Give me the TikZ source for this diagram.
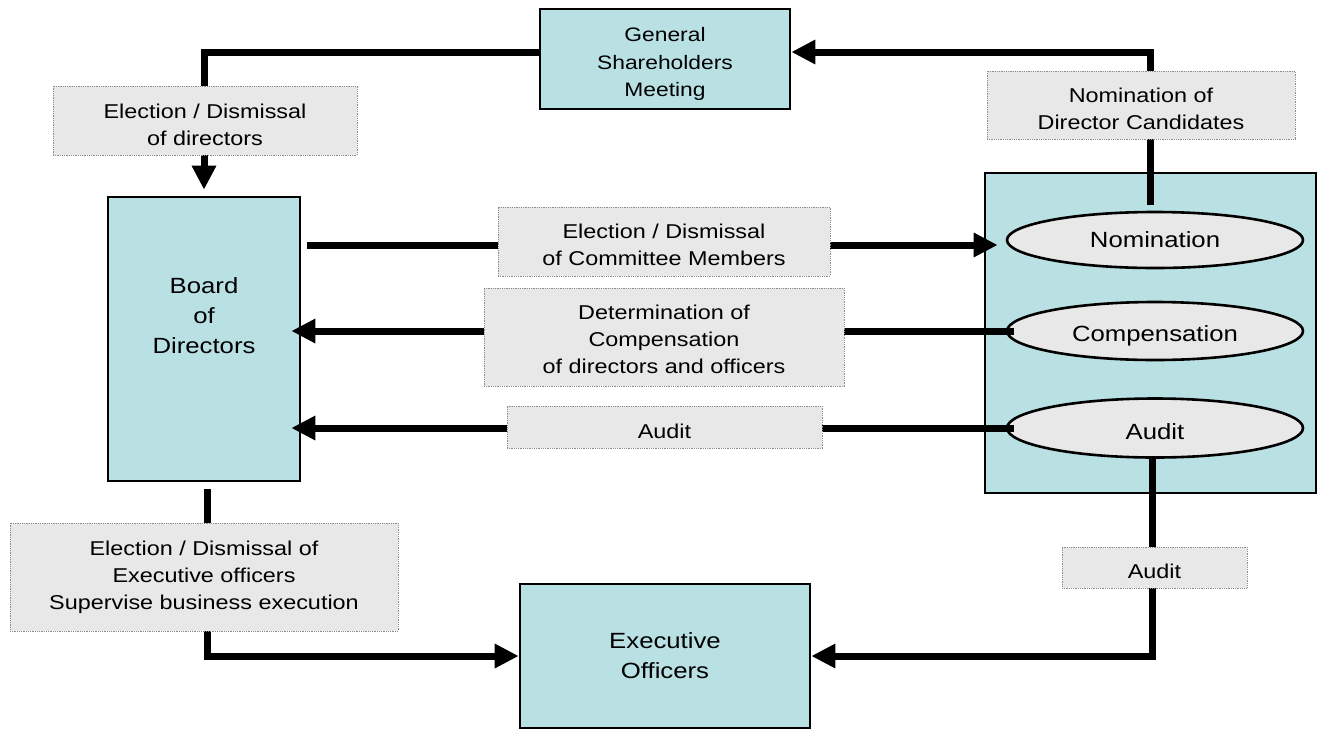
\documentclass[tikz,border=0pt]{standalone}
\usepackage{fontspec}
\setmainfont{Liberation Sans}[FakeStretch=1.17]
\usetikzlibrary{arrows.meta,calc,shapes.geometric}
\definecolor{boxblue}{HTML}{B9E0E3}
\definecolor{lblgray}{HTML}{E8E8E8}
\definecolor{lblborder}{HTML}{8C8C8C}
\tikzset{
  mainbox/.style={draw=black, line width=2.6pt, fill=boxblue, inner sep=0pt, align=center},
  oval/.style={ellipse, draw=black, line width=2.6pt, fill=lblgray, inner sep=0pt, align=center},
  lblbox/.style={draw=lblborder, densely dotted, line width=0.8pt, fill=lblgray, inner sep=0pt},
  small/.style={font=\fontsize{20}{27}\selectfont},
  big/.style={font=\fontsize{22}{30}\selectfont},
  gsmfont/.style={font=\fontsize{19.5}{27.5}\selectfont},
  conn/.style={line width=7pt, draw=black, line join=miter},
  arr/.style={-{Triangle[length=24pt,width=23pt]}},
}
\begin{document}
\begin{tikzpicture}[x=1pt,y=-1pt]
\useasboundingbox (0,0) rectangle (1329,729);
% main boxes
\node[mainbox, minimum width=250pt, minimum height=100pt,
  label={[gsmfont, align=center, yshift=-5pt]center:General\\Shareholders\\Meeting}] (gsm) at (665,59) {};
\node[mainbox, minimum width=192pt, minimum height=284pt,
  label={[big, align=center, yshift=23pt]center:Board\\of\\Directors}] (board) at (204,339) {};
\node[mainbox, minimum width=331pt, minimum height=320pt] (comm) at (1150.5,333) {};
\node[mainbox, minimum width=290pt, minimum height=144pt, big] (eo) at (665,656) {Executive\\Officers};
\node[oval, minimum width=296pt, minimum height=56pt, big] (nom) at (1155,240) {Nomination};
\node[oval, minimum width=296pt, minimum height=58pt,
  label={[big, yshift=-5pt]center:Compensation}] (comp) at (1155,331) {};
\node[oval, minimum width=296pt, minimum height=59pt,
  label={[big, yshift=-4pt]center:Audit}] (aud) at (1155,428) {};
% connectors
\draw[conn, arr, shorten >=6pt] ($(gsm.west)+(0,-7)$) -| (board.north);
\draw[conn, arr, shorten <=6pt] ($(nom.north)+(-5,0)$) |- ($(gsm.east)+(0,-7)$);
\draw[conn, arr, shorten <=6pt, shorten >=8pt] ($(board.east |- nom.west)+(0,5)$) -- ($(nom.west)+(0,5)$);
\draw[conn, arr, shorten <=-8pt, shorten >=-10pt] (comp.west) -- (board.east |- comp.west);
\draw[conn, arr, shorten <=-8pt, shorten >=-10pt] (aud.west) -- (board.east |- aud.west);
\draw[conn, arr] ($(aud.south)+(-3,0)$) |- (eo.east);
\draw[conn, arr, shorten <=7pt] ($(board.south)+(3,0)$) |- (eo.west);
% labels
\node[lblbox, minimum width=304pt, minimum height=69pt,
  label={[small, align=center, yshift=-4pt]center:Election / Dismissal\\of directors}] (ldir) at (205,120.5) {};
\node[lblbox, minimum width=308pt, minimum height=68pt,
  label={[small, align=center, yshift=-4pt]center:Nomination of\\Director Candidates}] (lnomc) at (1141,105) {};
\node[lblbox, minimum width=332pt, minimum height=69pt,
  label={[small, align=center, yshift=-3pt]center:Election / Dismissal\\of Committee Members}] (lcom) at (664,241.5) {};
\node[lblbox, minimum width=360pt, minimum height=98pt,
  label={[small, align=center, yshift=-2pt]center:Determination of\\Compensation\\of directors and officers}] (lcomp) at (664,337) {};
\node[lblbox, minimum width=315pt, minimum height=42pt,
  label={[small, yshift=-4pt]center:Audit}] (laud) at (664.5,427) {};
\node[lblbox, minimum width=388pt, minimum height=108pt,
  label={[small, align=center]center:Election / Dismissal of\\Executive officers\\Supervise business execution}] (lexec) at (204,577) {};
\node[lblbox, minimum width=185pt, minimum height=41pt,
  label={[small, yshift=-4pt]center:Audit}] (laud2) at (1154.5,567.5) {};
\end{tikzpicture}
\end{document}
